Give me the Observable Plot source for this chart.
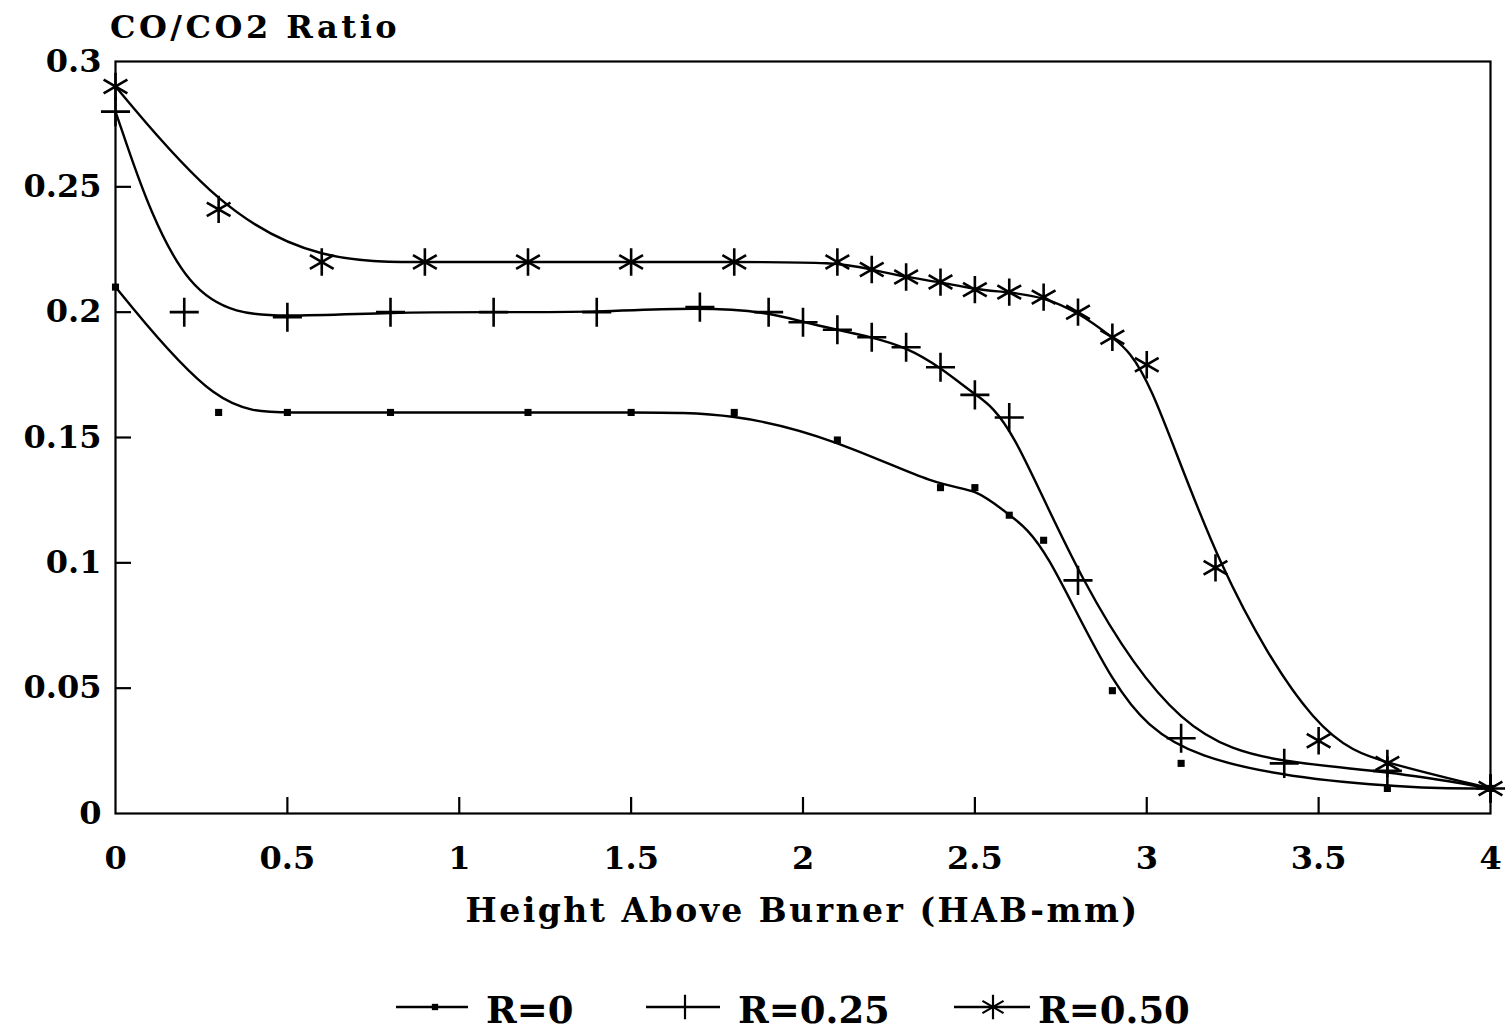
<!DOCTYPE html>
<html>
<head>
<meta charset="utf-8">
<script src="https://cdn.jsdelivr.net/npm/d3@7"></script>
<script src="https://cdn.jsdelivr.net/npm/@observablehq/plot@0.6"></script>
<style>
  html, body { margin: 0; padding: 0; background: #fff; }
  #wrap { position: relative; width: 1509px; height: 1035px; overflow: hidden; background: #fff; }
  #chart { position: absolute; left: 0; top: 0; }
  #overlay { position: absolute; left: 0; top: 0; pointer-events: none; }
  #overlay text { font-family: "DejaVu Serif", serif; font-weight: bold; fill: #000; }
</style>
</head>
<body>
<div id="wrap">
  <div id="chart"></div>
  <svg id="overlay" width="1509" height="1035"></svg>
</div>
<script>
// ---- data ----
const xR0  = [0, 0.3, 0.5, 0.8, 1.2, 1.5, 1.8, 2.1, 2.4, 2.5, 2.6, 2.7, 2.9, 3.1, 3.7, 4.0];
const yR0  = [0.21, 0.16, 0.16, 0.16, 0.16, 0.16, 0.16, 0.149, 0.13, 0.13, 0.119, 0.109, 0.049, 0.02, 0.01, 0.01];

const xR25 = [0, 0.2, 0.5, 0.8, 1.1, 1.4, 1.7, 1.9, 2.0, 2.1, 2.2, 2.3, 2.4, 2.5, 2.6, 2.8, 3.1, 3.4, 3.7, 4.0];
const yR25 = [0.28, 0.2, 0.198, 0.2, 0.2, 0.2, 0.202, 0.2, 0.196, 0.193, 0.19, 0.186, 0.178, 0.167, 0.158, 0.093, 0.03, 0.02, 0.017, 0.01];

const xR50 = [0, 0.3, 0.6, 0.9, 1.2, 1.5, 1.8, 2.1, 2.2, 2.3, 2.4, 2.5, 2.6, 2.7, 2.8, 2.9, 3.0, 3.2, 3.5, 3.7, 4.0];
const yR50 = [0.29, 0.241, 0.22, 0.22, 0.22, 0.22, 0.22, 0.22, 0.217, 0.214, 0.212, 0.209, 0.208, 0.206, 0.2, 0.19, 0.179, 0.098, 0.029, 0.02, 0.01];

const seriesNames = ["R=0", "R=0.25", "R=0.50"];
const xTicks = [0, 0.5, 1, 1.5, 2, 2.5, 3, 3.5, 4];
const yTicks = [0, 0.05, 0.1, 0.15, 0.2, 0.25, 0.3];
const titleText = "CO/CO2 Ratio";
const xLabelText = "Height Above Burner (HAB-mm)";

// ---- build tables ----
const toRows = (xs, ys) => xs.map((x, i) => ({x, y: ys[i]}));
const d0 = toRows(xR0, yR0);
const d25 = toRows(xR25, yR25);
const d50 = toRows(xR50, yR50);

const W = 1509, H = 940;
const mL = 115, mR = 19, mT = 61, mB = 127;
const plotW = W - mL - mR, plotH = H - mT - mB;
const tickLen = 16;

const chart = Plot.plot({
  width: W,
  height: H,
  marginLeft: mL,
  marginRight: mR,
  marginTop: mT,
  marginBottom: mB,
  style: {fontFamily: "DejaVu Serif", fontSize: "32px", fontWeight: "bold", background: "#fff", color: "#000", overflow: "visible"},
  x: {domain: [0, 4], label: null},
  y: {domain: [0, 0.3], label: null},
  marks: [
    Plot.frame({stroke: "#000", strokeWidth: 2.2}),
    Plot.ruleX(xTicks.slice(1, -1), {stroke: "#000", strokeWidth: 2.2, insetTop: plotH - tickLen}),
    Plot.ruleY(yTicks.slice(1, -1), {stroke: "#000", strokeWidth: 2.2, insetRight: plotW - tickLen}),
    Plot.axisX({ticks: xTicks, tickSize: 0, tickPadding: 33, tickFormat: d => String(d), label: null, fontSize: 32, fontWeight: "bold"}),
    Plot.axisY({ticks: yTicks, tickSize: 0, tickPadding: 14, tickFormat: d => String(d), label: null, fontSize: 32, fontWeight: "bold"}),
    Plot.line(d0,  {x: "x", y: "y", curve: "basis", stroke: "#000", strokeWidth: 2.4}),
    Plot.line(d25, {x: "x", y: "y", curve: "basis", stroke: "#000", strokeWidth: 2.4}),
    Plot.line(d50, {x: "x", y: "y", curve: "basis", stroke: "#000", strokeWidth: 2.4}),
    Plot.dot(d0,  {x: "x", y: "y", symbol: "square", r: 4, fill: "#000", stroke: "none"}),
    Plot.dot(d25, {x: "x", y: "y", symbol: "plus", r: 9.4, stroke: "#000", strokeWidth: 2.6}),
    Plot.dot(d50, {x: "x", y: "y", symbol: "asterisk", r: 13, stroke: "#000", strokeWidth: 2.6})
  ]
});
document.getElementById("chart").appendChild(chart);

// ---- title, x label and legend ----
const ov = d3.select("#overlay");
ov.append("text").attr("x", 110).attr("y", 38).attr("font-size", 32)
  .attr("letter-spacing", 3.5).text(titleText);
ov.append("text").attr("x", mL + plotW / 2).attr("y", 922).attr("font-size", 33)
  .attr("letter-spacing", 2.5).attr("text-anchor", "middle").text(xLabelText);

const legendY = 1007;
const legendItems = [
  {name: seriesNames[0], x1: 396, x2: 468, cx: 435, tx: 486, sym: d3.symbolSquare, size: 40, fill: true},
  {name: seriesNames[1], x1: 646, x2: 720, cx: 685, tx: 738, sym: d3.symbolPlus, size: 200, fill: false},
  {name: seriesNames[2], x1: 954, x2: 1030, cx: 993, tx: 1038, sym: d3.symbolAsterisk, size: 420, fill: false}
];
for (const it of legendItems) {
  ov.append("line").attr("x1", it.x1).attr("x2", it.x2).attr("y1", legendY).attr("y2", legendY)
    .attr("stroke", "#000").attr("stroke-width", 2.4);
  ov.append("path").attr("transform", `translate(${it.cx},${legendY})`)
    .attr("d", d3.symbol(it.sym, it.size)())
    .attr("fill", it.fill ? "#000" : "none")
    .attr("stroke", it.fill ? "none" : "#000").attr("stroke-width", 2.2);
  ov.append("text").attr("x", it.tx).attr("y", 1023).attr("font-size", 37).text(it.name);
}
</script>
</body>
</html>
